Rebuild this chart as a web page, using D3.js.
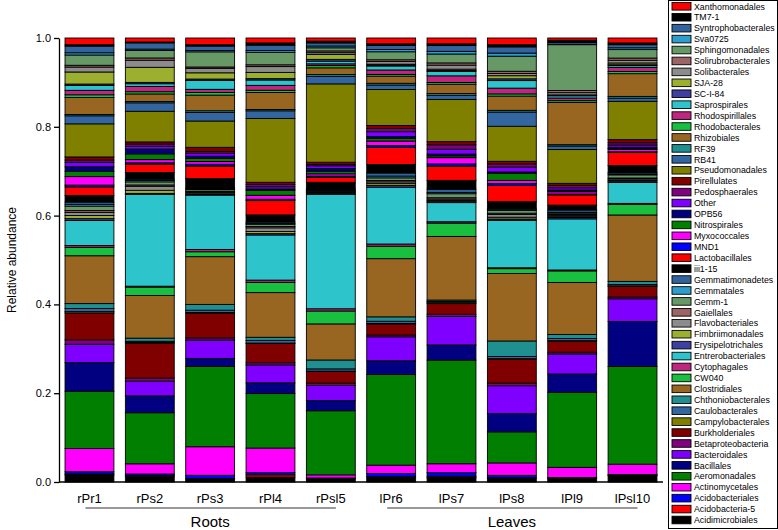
<!DOCTYPE html>
<html>
<head>
<meta charset="utf-8">
<script src="https://cdn.jsdelivr.net/npm/d3@7"></script>
<style>
  body { margin: 0; background: #fff; }
  text { font-family: "Liberation Sans", Arial, sans-serif; }
</style>
</head>
<body>
<svg width="778" height="530"></svg>
<script>
// taxa, bottom of the stack first
const taxa = ['Acidimicrobiales','Acidobacteria-5','Acidobacteriales','Actinomycetales','Aeromonadales',
  'Bacillales','Bacteroidales','Betaproteobacteria','Burkholderiales','Campylobacterales','Caulobacterales',
  'Chthoniobacterales','Clostridiales','CW040','Cytophagales','Entrerobacteriales','Erysipelotrichales',
  'Fimbriimonadales','Flavobacteriales','Gaiellales','Gemm-1','Gemmatales','Gemmatimonadetes','iii1-15',
  'Lactobacillales','MND1','Myxococcales','Nitrospirales','OPB56','Other','Pedosphaerales','Pirellulates',
  'Pseudomonadales','RB41','RF39','Rhizobiales','Rhodobacterales','Rhodospirillales','Saprospirales',
  'SC-I-84','SJA-28','Solibacterales','Solirubrobacterales','Sphingomonadales','Sva0725',
  'Syntrophobacterales','TM7-1','Xanthomonadales'];

const samples = ['rPr1','rPs2','rPs3','rPl4','rPsl5','lPr6','lPs7','lPs8','lPl9','lPsl10'];

// percent, same order as taxa
const rPr1 = [1.6,0.2,0.5,5.2,12.8,6.4,4.1,1.0,6.0,0.3,0.7,1.1,10.7,1.9,0.4,5.6,0.4,0.7,0.7,0.4,1.0,0.4,0.5,1.5,1.9,0.4,1.9,1.2,1.0,1.0,0.5,0.7,7.4,1.8,0.3,3.8,0.6,1.0,1.1,0.3,2.7,1.1,0.4,2.3,0.5,1.5,0.3,1.5];
const rPs2 = [1.3,0.1,0.4,2.3,11.5,3.8,3.3,0.7,7.9,0.2,0.2,0.7,9.6,1.9,0.2,20.7,0.2,0.7,0.9,0.3,0.7,0.3,0.3,1.5,1.9,0.3,0.7,1.3,1.1,0.6,0.5,0.5,6.9,1.9,0.3,1.7,0.5,1.2,0.6,0.3,3.4,1.6,0.5,1.7,0.3,1.4,0.2,0.9];
const rPs3 = [0.7,0.1,0.7,6.4,18.0,1.8,4.1,0.5,5.5,0.2,0.5,1.3,10.7,1.1,0.5,12.2,0.1,0.2,0.3,0.2,0.4,0.2,0.2,2.1,2.8,0.4,0.6,0.7,0.5,0.7,0.4,0.9,5.9,1.9,0.4,3.5,0.6,0.7,2.0,0.3,1.4,1.0,0.3,3.4,0.3,1.0,0.3,1.5];
const rPl4 = [1.1,0.5,0.5,5.5,12.2,2.4,4.0,0.5,4.3,0.1,0.6,0.7,10.0,2.3,0.5,10.1,0.3,0.5,0.8,0.3,0.5,0.2,0.3,1.6,3.2,0.3,0.9,1.1,0.3,0.5,0.5,0.5,14.3,1.7,0.3,3.8,0.5,1.1,1.2,0.3,1.4,1.3,0.4,2.8,0.4,1.2,0.5,1.1];
const rPsl5 = [0.7,0.1,0.1,0.7,14.4,2.3,3.4,0.5,2.6,0.1,0.5,2.0,8.1,2.9,0.5,25.7,0.2,0.2,0.2,0.1,0.2,0.1,0.2,1.5,1.1,0.3,0.5,0.6,0.6,0.6,0.3,0.5,17.6,1.7,0.4,1.5,0.5,0.4,0.6,0.4,1.1,0.4,0.4,0.7,0.4,0.7,0.4,0.7];
const lPr6 = [1.1,0.1,0.7,1.9,20.4,3.1,5.4,0.4,2.5,0.1,0.5,1.0,13.1,2.8,0.5,12.8,0.4,0.4,0.4,0.3,0.6,0.4,0.7,1.9,3.9,0.4,1.0,0.6,0.4,1.1,0.7,0.7,8.1,1.0,0.4,1.6,0.4,1.0,0.9,0.2,0.2,0.6,0.4,1.8,0.5,0.9,0.4,1.3];
const lPs7 = [1.0,0.3,0.8,2.0,23.3,3.4,6.4,0.5,2.4,0.3,0.2,0.3,14.3,3.0,0.3,4.3,0.3,0.2,0.3,0.3,0.9,0.3,0.7,2.0,3.2,0.5,1.4,0.4,0.4,1.1,1.0,0.7,9.5,0.9,0.4,2.1,0.4,1.5,1.0,0.2,0.3,0.9,0.5,2.0,0.6,1.3,0.4,1.3];
const lPs8 = [0.9,0.1,0.5,2.8,7.0,4.1,6.3,0.6,5.4,0.1,0.5,3.5,15.2,1.1,0.2,10.7,0.3,0.4,0.6,0.3,0.6,0.2,0.3,1.5,3.7,0.4,0.7,1.6,0.3,1.1,0.7,0.6,7.9,3.2,0.4,3.2,0.5,1.3,1.7,0.4,0.7,0.5,0.5,3.4,0.7,1.4,0.5,1.5];
const lPl9 = [0.8,0.1,0.1,2.3,16.9,4.1,4.5,0.4,2.5,0.1,0.5,0.9,11.7,2.6,0.2,11.5,0.3,0.2,0.3,0.2,0.3,0.2,0.5,1.1,2.3,0.2,0.5,0.2,0.2,0.5,0.5,0.5,7.6,0.8,0.3,9.5,0.4,0.6,0.5,0.1,0.1,0.5,0.5,10.3,0.1,0.4,0.5,0.5];
const lPsl10 = [1.4,0.1,0.2,2.3,21.9,10.1,5.1,0.4,2.4,0.1,0.3,0.7,14.9,2.4,0.2,4.7,0.3,0.2,0.3,0.2,0.7,0.2,0.3,1.6,2.9,0.2,0.5,0.2,0.3,0.5,0.5,0.7,8.6,0.7,0.4,5.1,0.5,0.9,0.4,0.2,0.4,0.6,0.5,1.9,0.4,0.7,0.4,1.1];
const sampleValues = [rPr1, rPs2, rPs3, rPl4, rPsl5, lPr6, lPs7, lPs8, lPl9, lPsl10];

const groups = [
  {name: 'Roots', first: 'rPr1', last: 'rPsl5', label: 'rPs3'},
  {name: 'Leaves', first: 'lPr6', last: 'lPsl10', label: 'lPs8'}
];
const yTicks = [0, 0.2, 0.4, 0.6, 0.8, 1.0];

// colour cycle used by the taxa list
const palette = ['#000000','#ff0000','#0000ff','#ff00ff','#007f00','#000080','#8000ff','#800080',
  '#800000','#808000','#3366a0','#1f8f8f','#996622','#19c040','#bf2680','#2ec4cc','#3d40a0',
  '#9caf2f','#8c8c8c','#9c6464','#669966','#2e9ccc','#33639c'];

const svg = d3.select('svg');
const margin = {left: 59, right: 115, top: 38, bottom: 48};
const width = 778, height = 530;
const innerW = width - margin.left - margin.right;
const innerH = height - margin.top - margin.bottom;

const color = d3.scaleOrdinal().domain(taxa).range(taxa.map((t, i) => palette[i % palette.length]));

const rows = samples.map((s, i) => {
  const total = d3.sum(sampleValues[i]);
  const row = {sample: s};
  taxa.forEach((t, j) => row[t] = sampleValues[i][j] / total);
  return row;
});
const series = d3.stack().keys(taxa)(rows);

const x = d3.scaleBand().domain(samples).range([0, innerW]).paddingInner(0.19).paddingOuter(0.1);
const y = d3.scaleLinear().domain([0, 1]).range([innerH, 0]);

const g = svg.append('g').attr('transform', `translate(${margin.left},${margin.top})`);

g.selectAll('g.layer').data(series).enter().append('g')
    .attr('class', 'layer')
    .attr('fill', d => color(d.key))
  .selectAll('rect').data(d => d).enter().append('rect')
    .attr('x', d => x(d.data.sample))
    .attr('y', d => y(d[1]))
    .attr('width', x.bandwidth())
    .attr('height', d => y(d[0]) - y(d[1]))
    .attr('stroke', '#000')
    .attr('stroke-width', 0.9);

// axes
const yAxis = g.append('g').call(d3.axisLeft(y).tickValues(yTicks).tickFormat(d3.format('.1f')).tickSize(5).tickSizeOuter(0));
yAxis.select('.domain').attr('stroke-width', 1.3);
yAxis.selectAll('.tick line').attr('stroke-width', 1.3);
yAxis.selectAll('.tick text').attr('font-size', 11).attr('fill', '#000')
    .attr('font-family', '"Liberation Sans", Arial, sans-serif');

g.append('line').attr('x1', 0).attr('x2', innerW).attr('y1', innerH).attr('y2', innerH)
    .attr('stroke', '#000').attr('stroke-width', 1.3);

g.selectAll('text.sample').data(samples).enter().append('text')
    .attr('class', 'sample')
    .attr('x', d => x(d) + x.bandwidth() / 2)
    .attr('y', innerH + 21)
    .attr('text-anchor', 'middle')
    .attr('font-size', 13)
    .text(d => d);

groups.forEach(gr => {
  const x1 = x(gr.first) + x.bandwidth() / 2 - 4;
  const x2 = x(gr.last) + x.bandwidth() / 2 + 5;
  g.append('line').attr('x1', x1).attr('x2', x2)
      .attr('y1', innerH + 26).attr('y2', innerH + 26)
      .attr('stroke', '#777').attr('stroke-width', 1.6);
  g.append('text')
      .attr('x', x(gr.label) + x.bandwidth() / 2)
      .attr('y', innerH + 45)
      .attr('text-anchor', 'middle')
      .attr('font-size', 15)
      .text(gr.name);
});

svg.append('text')
    .attr('transform', `translate(16,${margin.top + innerH / 2}) rotate(-90)`)
    .attr('text-anchor', 'middle')
    .attr('font-size', 12)
    .text('Relative abundance');

// legend
const legend = svg.append('g');
legend.append('rect').attr('x', 668.5).attr('y', 0.5).attr('width', 109).attr('height', 528)
    .attr('fill', '#fff').attr('stroke', '#000');
const legendTaxa = taxa.slice().reverse();
const ly = d3.scalePoint().domain(legendTaxa).range([6.3, 520]);
const item = legend.selectAll('g.item').data(legendTaxa).enter().append('g')
    .attr('transform', d => `translate(672,${ly(d)})`);
item.append('rect').attr('x', 0).attr('y', -3.8).attr('width', 19).attr('height', 7.6)
    .attr('fill', d => color(d)).attr('stroke', '#000').attr('stroke-width', 0.9);
item.append('text').attr('x', 22).attr('y', 3.2).attr('font-size', 8.8).text(d => d);
</script>
</body>
</html>
